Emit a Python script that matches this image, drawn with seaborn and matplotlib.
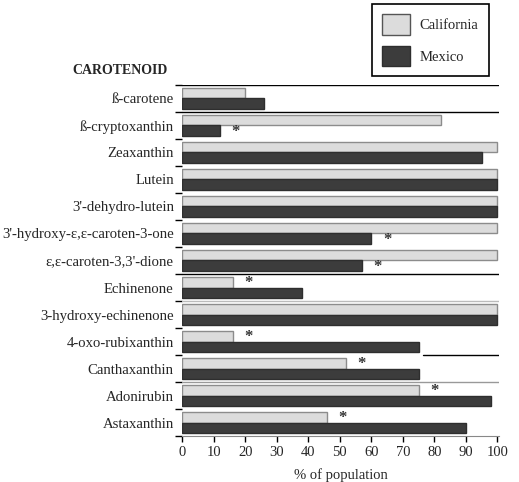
import numpy as np
import pandas as pd
import matplotlib
matplotlib.use("Agg")
import matplotlib.pyplot as plt
import seaborn as sns
from matplotlib.patches import Patch

categories = [
    "ß-carotene", "ß-cryptoxanthin", "Zeaxanthin", "Lutein", "3'-dehydro-lutein",
    "3'-hydroxy-ε,ε-caroten-3-one", "ε,ε-caroten-3,3'-dione", "Echinenone",
    "3-hydroxy-echinenone", "4-oxo-rubixanthin", "Canthaxanthin", "Adonirubin",
    "Astaxanthin",
]
california = [20, 82, 100, 100, 100, 100, 100, 16, 100, 16, 52, 75, 46]
mexico = [26, 12, 95, 100, 100, 60, 57, 38, 100, 75, 75, 98, 90]
significant = [False, True, False, False, False, True, True, True, False, True, True, True, True]
groups = ["California", "Mexico"]
xticks = list(range(0, 101, 10))

df = pd.DataFrame({
    "carotenoid": categories * 2,
    "pct": california + mexico,
    "group": [groups[0]] * len(categories) + [groups[1]] * len(categories),
})

sns.set_style("white")
plt.rcParams["font.family"] = ["Liberation Serif", "DejaVu Serif"]

fig = plt.figure(figsize=(5.19, 4.82), dpi=100)
ax = fig.add_axes([0.351, 0.0954, 0.61, 0.7283])

pal = {"California": "#dcdcdc", "Mexico": "#3c3c3c"}
sns.barplot(data=df, y="carotenoid", x="pct", hue="group", order=categories,
            hue_order=groups, palette=pal, orient="h", width=0.8,
            ax=ax, legend=False, zorder=3)
for p in ax.patches:
    if p.get_facecolor()[0] > 0.5:
        p.set_edgecolor("#8c8c8c")
    else:
        p.set_edgecolor("#2e2e2e")
    p.set_linewidth(1.0)

# separator lines (as in the scanned figure)
for b, x0, col in [(-0.5, 0, "black"), (0.5, 0, "black"), (6.5, 0, "black"),
                   (9.5, 0.76, "black"), (7.5, 0, "#bbbbbb"), (10.5, 0, "#999999")]:
    ax.axhline(b, xmin=x0, xmax=1, color=col, lw=1.0, zorder=1)

# significance stars
for i, sig in enumerate(significant):
    if sig:
        lo = min(california[i], mexico[i])
        off = -0.2 if california[i] <= mexico[i] else 0.2
        ax.text(lo + 5, i + off + 0.05, "*", ha="center", va="center",
                fontsize=12, fontweight="bold", color="#333333", zorder=4)

ax.set_xlim(0, 100.4)
ax.set_ylim(len(categories) - 0.5, -0.5)
ax.set_xticks(xticks)
ax.set_xticklabels([str(t) for t in xticks], fontsize=10.5)
ax.set_yticks(range(len(categories)))
ax.set_yticklabels(categories, fontsize=10.6)
ax.set_yticks(np.arange(-0.5, len(categories), 1.0), minor=True)
ax.tick_params(axis="y", which="major", length=0, pad=6)
ax.tick_params(axis="y", which="minor", left=True, length=5, width=1, color="black")
ax.tick_params(axis="x", which="major", bottom=True, length=4, width=1, color="black", pad=3)
ax.set_xlabel("% of population", fontsize=10.5, labelpad=7)
ax.set_ylabel("")
for s in ["top", "right", "left"]:
    ax.spines[s].set_visible(False)
ax.spines["bottom"].set_color("#888888")
ax.spines["bottom"].set_linewidth(0.8)

fig.text(72 / 519, 1 - 71 / 482, "CAROTENOID", fontsize=10, fontweight="bold",
         ha="left", va="center")

handles = [Patch(facecolor=pal[g], edgecolor="#555555" if g == "California" else "#2e2e2e",
                 linewidth=1.0) for g in groups]
leg = fig.legend(handles, groups, loc="upper left", bbox_to_anchor=(0.716, 0.992),
                 fontsize=10.5, frameon=True, fancybox=False, edgecolor="black",
                 framealpha=1, handlelength=1.9, handleheight=1.8, labelspacing=0.75,
                 borderpad=0.7, handletextpad=0.7, borderaxespad=0)
leg.get_frame().set_linewidth(1.2)

fig.savefig("out.png", dpi=100)
